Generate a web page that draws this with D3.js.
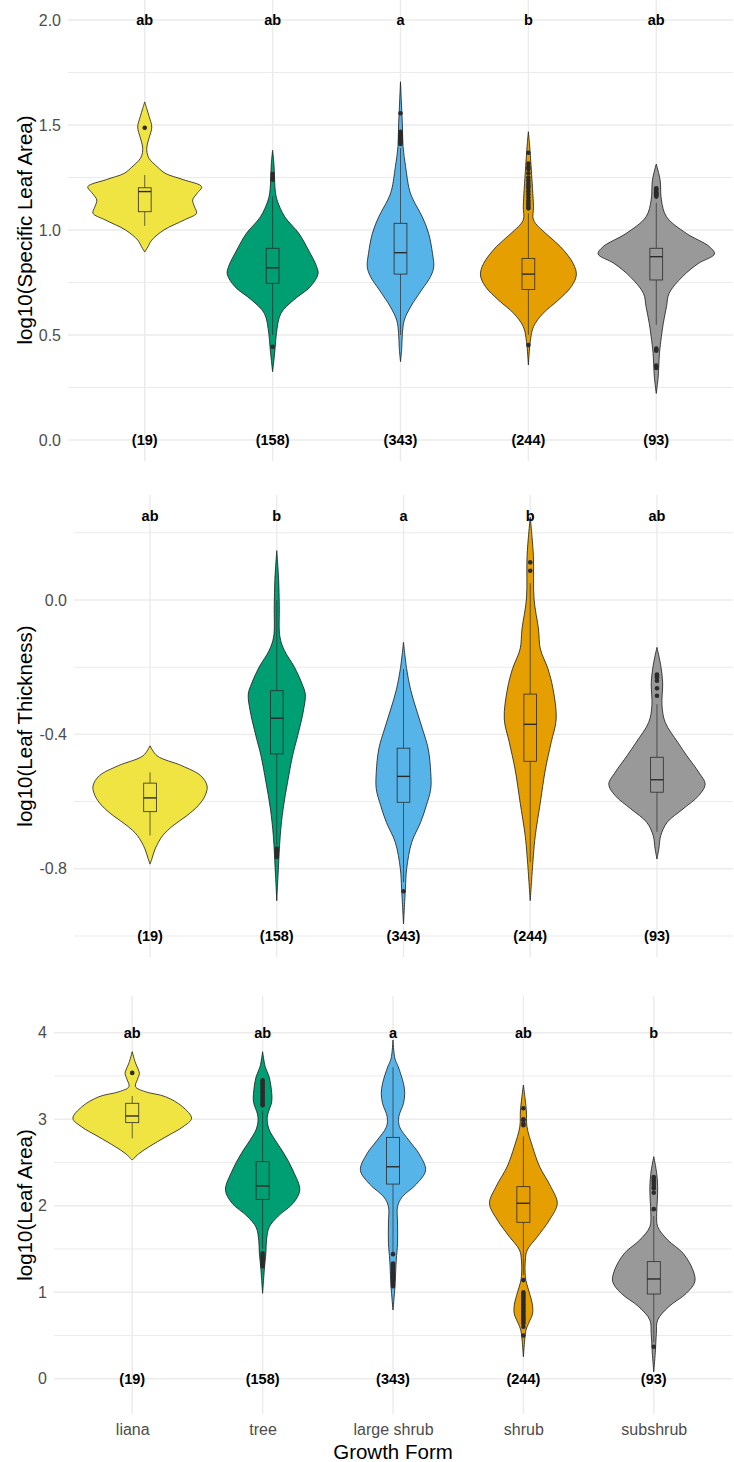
<!DOCTYPE html>
<html>
<head>
<meta charset="utf-8">
<script src="https://cdn.jsdelivr.net/npm/d3@7"></script>
<style>
  body { margin: 0; background: #fff; }
  svg { display: block; font-family: "Liberation Sans", Arial, sans-serif; }
</style>
</head>
<body>
<svg id="chart" width="734" height="1462"></svg>
<script>
// categories + labels
const categories = ['liana', 'tree', 'large shrub', 'shrub', 'subshrub'];
const sampleSizes = ['(19)', '(158)', '(343)', '(244)', '(93)'];
const fillColors = ['#F0E442', '#009E73', '#56B4E9', '#E69F00', '#999999'];

// --- panel 1: log10(Specific Leaf Area) ---
const slaLetters = ['ab', 'ab', 'a', 'b', 'ab'];
const slaTicks = [0, 0.5, 1, 1.5, 2];
const slaTickLabels = ['0.0', '0.5', '1.0', '1.5', '2.0'];
const slaMinor = [0.25, 0.75, 1.25, 1.75];
// violin outline: [value, width as fraction of category step]
const slaProfiles = [
  [[1.61,0],[1.58,0.03],[1.54,0.07],[1.49,0.11],[1.44,0.07],[1.40,0.035],[1.37,0.035],[1.34,0.07],[1.30,0.2],[1.27,0.32],[1.24,0.6],[1.206,0.89],[1.175,0.82],[1.143,0.75],[1.11,0.78],[1.08,0.81],[1.048,0.62],[1.0,0.3],[0.952,0.11],[0.92,0.05],[0.895,0]],
  [[1.38,0],[1.317,0.02],[1.25,0.03],[1.19,0.04],[1.143,0.07],[1.063,0.19],[0.984,0.41],[0.905,0.56],[0.825,0.69],[0.79,0.71],[0.73,0.59],[0.667,0.33],[0.603,0.13],[0.508,0.06],[0.44,0.04],[0.38,0.02],[0.325,0]],
  [[1.706,0],[1.6,0.015],[1.5,0.03],[1.397,0.04],[1.302,0.08],[1.19,0.14],[1.143,0.2],[1.063,0.34],[0.984,0.44],[0.889,0.5],[0.825,0.52],[0.778,0.47],[0.714,0.33],[0.635,0.16],[0.571,0.06],[0.508,0.03],[0.44,0.02],[0.373,0]],
  [[1.468,0],[1.4,0.02],[1.29,0.045],[1.111,0.08],[1.048,0.08],[0.984,0.27],[0.921,0.5],[0.841,0.7],[0.786,0.75],[0.73,0.67],[0.667,0.47],[0.603,0.23],[0.54,0.08],[0.47,0.03],[0.357,0]],
  [[1.314,0],[1.238,0.06],[1.143,0.08],[1.063,0.16],[0.984,0.47],[0.921,0.83],[0.886,0.91],[0.841,0.66],[0.778,0.41],[0.698,0.2],[0.635,0.16],[0.556,0.11],[0.492,0.08],[0.413,0.05],[0.3,0.03],[0.222,0]]
];
// [lower whisker, q1, median, q3, upper whisker]
const slaBoxes = [
  [1.02, 1.087, 1.183, 1.201, 1.262],
  [0.5, 0.746, 0.82, 0.913, 1.16],
  [0.5, 0.79, 0.892, 1.032, 1.39],
  [0.5, 0.717, 0.79, 0.865, 1.08],
  [0.548, 0.762, 0.873, 0.913, 1.13]
];
const slaOutliers = [
  [1.487],
  [1.267, 1.25, 1.24, 0.444],
  [1.556, 1.468, 1.46, 1.455, 1.45, 1.445, 1.44, 1.435, 1.43, 1.425, 1.42, 1.415, 1.41],
  [1.368, 1.317, 1.30, 1.29, 1.27, 1.25, 1.235, 1.22, 1.21, 1.2, 1.185, 1.17, 1.155, 1.14, 1.13, 1.12, 1.11, 1.103, 0.452],
  [1.199, 1.193, 1.187, 1.18, 1.175, 1.17, 1.165, 1.159, 0.435, 0.43, 0.425, 0.355, 0.349, 0.343]
];

// --- panel 2: log10(Leaf Thickness) ---
const thickLetters = ['ab', 'b', 'a', 'b', 'ab'];
const thickTicks = [-0.8, -0.4, 0];
const thickTickLabels = ['-0.8', '-0.4', '0.0'];
const thickMinor = [-1.0, -0.6, -0.2, 0.2];
const thickProfiles = [
  [[-0.434,0],[-0.4635,0.11],[-0.493,0.5],[-0.523,0.8],[-0.553,0.9],[-0.582,0.87],[-0.612,0.76],[-0.642,0.58],[-0.672,0.36],[-0.701,0.2],[-0.741,0.08],[-0.77,0.03],[-0.786,0]],
  [[0.147,0],[0.06,0.03],[-0.017,0.04],[-0.11,0.05],[-0.15,0.12],[-0.2,0.28],[-0.25,0.4],[-0.28,0.45],[-0.33,0.42],[-0.404,0.33],[-0.463,0.25],[-0.543,0.17],[-0.622,0.1],[-0.701,0.055],[-0.82,0.02],[-0.895,0]],
  [[-0.126,0],[-0.205,0.05],[-0.265,0.11],[-0.324,0.2],[-0.384,0.3],[-0.443,0.39],[-0.513,0.43],[-0.5625,0.43],[-0.612,0.36],[-0.662,0.27],[-0.721,0.13],[-0.8,0.05],[-0.86,0.03],[-0.964,0]],
  [[0.246,0],[0.132,0.05],[0.003,0.06],[-0.086,0.13],[-0.146,0.16],[-0.205,0.28],[-0.265,0.36],[-0.354,0.41],[-0.424,0.33],[-0.503,0.24],[-0.602,0.16],[-0.701,0.08],[-0.761,0.05],[-0.895,0]],
  [[-0.141,0],[-0.195,0.06],[-0.245,0.09],[-0.315,0.08],[-0.364,0.13],[-0.424,0.33],[-0.463,0.47],[-0.513,0.66],[-0.548,0.76],[-0.582,0.66],[-0.622,0.41],[-0.662,0.16],[-0.701,0.06],[-0.74,0.03],[-0.771,0]]
];
const thickBoxes = [
  [-0.701, -0.63, -0.589, -0.545, -0.513],
  [-0.73, -0.458, -0.352, -0.27, 0.0],
  [-0.84, -0.602, -0.525, -0.441, -0.205],
  [-0.78, -0.48, -0.37, -0.28, 0.05],
  [-0.69, -0.572, -0.535, -0.468, -0.31]
];
const thickOutliers = [
  [],
  [-0.74, -0.745, -0.75, -0.755, -0.76, -0.765],
  [-0.867],
  [0.112, 0.087],
  [-0.222, -0.225, -0.23, -0.24, -0.263, -0.285]
];

// --- panel 3: log10(Leaf Area) ---
const areaLetters = ['ab', 'ab', 'a', 'ab', 'b'];
const areaTicks = [0, 1, 2, 3, 4];
const areaTickLabels = ['0', '1', '2', '3', '4'];
const areaMinor = [0.5, 1.5, 2.5, 3.5];
const areaProfiles = [
  [[3.78,0],[3.65,0.05],[3.58,0.09],[3.53,0.11],[3.46,0.08],[3.376,0.05],[3.318,0.2],[3.26,0.51],[3.145,0.77],[3.01,0.91],[2.913,0.78],[2.798,0.52],[2.682,0.26],[2.606,0.11],[2.528,0]],
  [[3.78,0],[3.607,0.04],[3.49,0.1],[3.3,0.14],[3.2,0.14],[3.06,0.08],[2.99,0.07],[2.88,0.1],[2.75,0.2],[2.6,0.33],[2.4,0.47],[2.18,0.57],[2.03,0.47],[1.88,0.24],[1.75,0.1],[1.6,0.06],[1.45,0.05],[1.295,0.03],[0.987,0]],
  [[3.915,0],[3.7,0.03],[3.607,0.08],[3.415,0.16],[3.3,0.18],[3.18,0.16],[3.03,0.09],[2.913,0.1],[2.75,0.25],[2.6,0.4],[2.41,0.5],[2.25,0.36],[2.1,0.14],[1.99,0.07],[1.8,0.07],[1.565,0.07],[1.372,0.05],[1.064,0.03],[0.794,0]],
  [[3.395,0],[3.106,0.045],[2.913,0.055],[2.682,0.14],[2.45,0.25],[2.22,0.42],[2.027,0.52],[1.835,0.4],[1.642,0.215],[1.488,0.06],[1.372,0.03],[1.18,0.03],[1.1,0.05],[1.0,0.09],[0.85,0.14],[0.75,0.14],[0.64,0.08],[0.563,0.04],[0.447,0.02],[0.254,0]],
  [[2.567,0],[2.375,0.045],[2.22,0.06],[2.066,0.055],[1.912,0.045],[1.757,0.06],[1.603,0.215],[1.45,0.45],[1.257,0.6],[1.121,0.63],[0.987,0.5],[0.832,0.23],[0.679,0.06],[0.525,0.04],[0.3,0.023],[0.081,0]]
];
const areaBoxes = [
  [2.779, 2.96, 3.037, 3.184, 3.268],
  [1.5, 2.073, 2.228, 2.509, 3.1],
  [1.45, 2.25, 2.45, 2.79, 3.6],
  [1.2, 1.808, 2.028, 2.22, 2.8],
  [0.42, 0.979, 1.153, 1.353, 1.88]
];
const areaOutliers = [
  [3.535],
  [3.45, 3.43, 3.41, 3.39, 3.37, 3.35, 3.33, 3.31, 3.29, 3.27, 3.25, 3.23, 3.21, 3.19, 3.17, 3.16, 1.45, 1.42, 1.4, 1.38, 1.36, 1.34, 1.32, 1.3],
  [1.44, 1.33, 1.31, 1.29, 1.27, 1.25, 1.23, 1.21, 1.19, 1.17, 1.15, 1.13, 1.11, 1.09, 1.07],
  [3.126, 3.0, 2.99, 2.95, 2.93, 1.14, 1.0, 0.98, 0.96, 0.94, 0.92, 0.9, 0.88, 0.86, 0.84, 0.82, 0.8, 0.78, 0.76, 0.74, 0.72, 0.7, 0.68, 0.66, 0.64, 0.6, 0.5],
  [2.33, 2.30, 2.28, 2.25, 2.22, 2.2, 2.15, 1.96, 0.37]
];

// panel layout (pixels)
const panels = [
  {title: 'log10(Specific Leaf Area)', profiles: slaProfiles, boxes: slaBoxes, outliers: slaOutliers,
   letters: slaLetters, ticks: slaTicks, tickLabels: slaTickLabels, minor: slaMinor,
   letterAt: 2.0, nAt: 0, domain: [-0.1, 2.1], left: 68, right: 733, top: -1, bottom: 461},
  {title: 'log10(Leaf Thickness)', profiles: thickProfiles, boxes: thickBoxes, outliers: thickOutliers,
   letters: thickLetters, ticks: thickTicks, tickLabels: thickTickLabels, minor: thickMinor,
   letterAt: 0.25, nAt: -1.0, domain: [-1.0625, 0.3125], left: 74, right: 733, top: 495, bottom: 957},
  {title: 'log10(Leaf Area)', profiles: areaProfiles, boxes: areaBoxes, outliers: areaOutliers,
   letters: areaLetters, ticks: areaTicks, tickLabels: areaTickLabels, minor: areaMinor,
   letterAt: 4.0, nAt: 0, domain: [-0.408, 4.424], left: 54, right: 732, top: 996, bottom: 1414, xAxis: true}
];

const svg = d3.select('#chart');
const gridColor = '#EBEBEB';
const ink = '#2b2b2b';

panels.forEach(p => {
  const g = svg.append('g');
  const x = d3.scalePoint().domain(categories).range([p.left, p.right]).padding(0.6);
  const y = d3.scaleLinear().domain(p.domain).range([p.bottom, p.top]);
  const step = x.step();

  // grid
  g.selectAll('.minor').data(p.minor).enter().append('line')
    .attr('x1', p.left).attr('x2', p.right)
    .attr('y1', d => y(d)).attr('y2', d => y(d))
    .attr('stroke', gridColor).attr('stroke-width', 1);
  g.selectAll('.major').data(p.ticks).enter().append('line')
    .attr('x1', p.left).attr('x2', p.right)
    .attr('y1', d => y(d)).attr('y2', d => y(d))
    .attr('stroke', gridColor).attr('stroke-width', 1.4);
  g.selectAll('.vgrid').data(categories).enter().append('line')
    .attr('x1', d => x(d)).attr('x2', d => x(d))
    .attr('y1', p.top).attr('y2', p.bottom)
    .attr('stroke', gridColor).attr('stroke-width', 1.4);

  // y axis labels
  const yAxis = d3.axisLeft(y)
    .tickValues(p.ticks)
    .tickSize(0)
    .tickPadding(7)
    .tickFormat((d, i) => p.tickLabels[i]);
  g.append('g')
    .attr('transform', `translate(${p.left},0)`)
    .call(yAxis)
    .call(a => a.select('.domain').remove())
    .selectAll('text')
    .attr('fill', '#4D4D4D')
    .style('font-size', '16px')
    .style('font-family', '"Liberation Sans", Arial, sans-serif');

  // y title
  g.append('text')
    .attr('transform', `translate(25,${(p.top + p.bottom) / 2}) rotate(-90)`)
    .attr('text-anchor', 'middle')
    .attr('dy', '0.35em')
    .style('font-size', '20.5px')
    .attr('fill', '#000')
    .text(p.title);

  // violins
  const halfW = d3.scaleLinear().domain([0, 1]).range([0, step / 2]);
  categories.forEach((c, i) => {
    const cx = x(c);
    const area = d3.area()
      .y(d => y(d[0]))
      .x0(d => cx - halfW(d[1]))
      .x1(d => cx + halfW(d[1]))
      .curve(d3.curveCatmullRom.alpha(0.5));
    g.append('path')
      .datum(p.profiles[i])
      .attr('d', area)
      .attr('fill', fillColors[i])
      .attr('stroke', '#1a1a1a')
      .attr('stroke-width', 0.8);

    // box
    const [lo, q1, med, q3, hi] = p.boxes[i];
    const bw = step * 0.1;
    g.append('line')
      .attr('x1', cx).attr('x2', cx).attr('y1', y(hi)).attr('y2', y(q3))
      .attr('stroke', ink).attr('stroke-width', 0.7);
    g.append('line')
      .attr('x1', cx).attr('x2', cx).attr('y1', y(q1)).attr('y2', y(lo))
      .attr('stroke', ink).attr('stroke-width', 0.7);
    g.append('rect')
      .attr('x', cx - bw / 2).attr('width', bw)
      .attr('y', y(q3)).attr('height', y(q1) - y(q3))
      .attr('fill', fillColors[i])
      .attr('stroke', ink).attr('stroke-width', 0.8);
    g.append('line')
      .attr('x1', cx - bw / 2).attr('x2', cx + bw / 2)
      .attr('y1', y(med)).attr('y2', y(med))
      .attr('stroke', ink).attr('stroke-width', 1.4);

    // outliers
    g.selectAll(null).data(p.outliers[i]).enter().append('circle')
      .attr('cx', cx).attr('cy', d => y(d))
      .attr('r', 2.3)
      .attr('fill', ink);
  });

  // letters + sample sizes
  g.selectAll('.lett').data(categories).enter().append('text')
    .attr('x', d => x(d)).attr('y', y(p.letterAt)).attr('dy', '0.35em')
    .attr('text-anchor', 'middle')
    .style('font-size', '14.5px').style('font-weight', 'bold')
    .text((d, i) => p.letters[i]);
  g.selectAll('.nn').data(categories).enter().append('text')
    .attr('x', d => x(d)).attr('y', y(p.nAt)).attr('dy', '0.35em')
    .attr('text-anchor', 'middle')
    .style('font-size', '14.5px').style('font-weight', 'bold')
    .text((d, i) => sampleSizes[i]);

  if (p.xAxis) {
    const xAxis = d3.axisBottom(x).tickSize(0).tickPadding(10);
    g.append('g')
      .attr('transform', `translate(0,${p.bottom})`)
      .call(xAxis)
      .call(a => a.select('.domain').remove())
      .selectAll('text')
      .attr('fill', '#4D4D4D')
      .style('font-size', '16px')
      .style('font-family', '"Liberation Sans", Arial, sans-serif');
    g.append('text')
      .attr('x', (p.left + p.right) / 2).attr('y', 1452).attr('dy', '0.35em')
      .attr('text-anchor', 'middle')
      .style('font-size', '20.5px')
      .text('Growth Form');
  }
});
</script>
</body>
</html>
